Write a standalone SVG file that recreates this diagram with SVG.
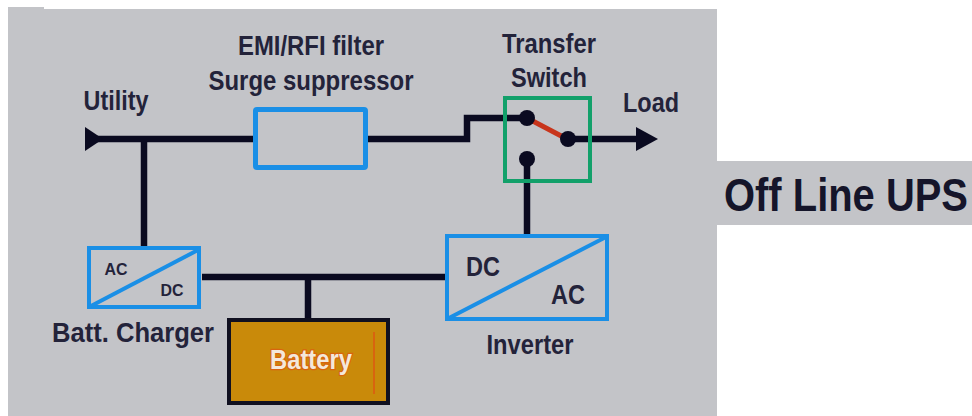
<svg xmlns="http://www.w3.org/2000/svg" width="972" height="416" viewBox="0 0 972 416">
<style>
text{font-family:"Liberation Sans",Arial,sans-serif;font-weight:700;fill:#23233a;text-anchor:middle}
.l{font-size:27px}
.w{fill:none;stroke:#0a0a20;stroke-width:6.5}
.b{fill:none;stroke:#1a8fe6;stroke-width:4}
.d{fill:#0a0a20}
</style>
<rect width="972" height="416" fill="#fff"/>
<path d="M8 7H44V9H717V416H8Z" fill="#c3c4c8"/>
<rect x="717" y="161" width="255" height="64" fill="#c3c4c8"/>
<g id="connectors">
<path class="w" d="M95 139H255M144 139V247M367 139H467V118H526M568 139H640M202 277H447M308 277V320M527 158V236"/>
<path class="d" d="M85 127L103 139L85 151Z"/>
<path class="d" d="M636 127L658 139L636 151Z"/>
</g>
<g id="switch">
<rect x="505" y="98" width="85" height="83" fill="none" stroke="#12a06a" stroke-width="4"/>
<path d="M527 118L567 139" stroke="#c8351c" stroke-width="5"/>
<circle class="d" cx="527" cy="118" r="8"/>
<circle class="d" cx="568" cy="139" r="8"/>
<circle class="d" cx="527" cy="159" r="8"/>
<text class="l" x="549" y="53" textLength="94" lengthAdjust="spacingAndGlyphs">Transfer</text>
<text class="l" x="549" y="87" textLength="76" lengthAdjust="spacingAndGlyphs">Switch</text>
</g>
<g id="utility"><text class="l" x="116" y="110" textLength="65" lengthAdjust="spacingAndGlyphs">Utility</text></g>
<g id="load"><text class="l" x="651" y="112" textLength="56" lengthAdjust="spacingAndGlyphs">Load</text></g>
<g id="filter">
<rect class="b" x="255.5" y="109.5" width="110" height="58" rx="1.5" style="stroke-width:5"/>
<text class="l" x="311" y="55" textLength="146" lengthAdjust="spacingAndGlyphs">EMI/RFI filter</text>
<text class="l" x="311" y="90" textLength="205" lengthAdjust="spacingAndGlyphs">Surge suppressor</text>
</g>
<g id="charger">
<rect class="b" x="89" y="248" width="110" height="59"/>
<path class="b" d="M91 306L198 250"/>
<text x="116" y="275" font-size="17" textLength="23" lengthAdjust="spacingAndGlyphs">AC</text>
<text x="172" y="296" font-size="17" textLength="23" lengthAdjust="spacingAndGlyphs">DC</text>
<text class="l" x="133" y="342" textLength="162" lengthAdjust="spacingAndGlyphs">Batt. Charger</text>
</g>
<g id="battery">
<rect x="229" y="320" width="159" height="83" fill="#c98a0a" stroke="#101020" stroke-width="4"/>
<path d="M374 332V394" stroke="#d8640f" stroke-width="2"/>
<text class="l" x="311" y="369" style="fill:#f3e8da;stroke:#d8640f;stroke-width:2.5;paint-order:stroke" textLength="82" lengthAdjust="spacingAndGlyphs">Battery</text>
</g>
<g id="inverter">
<rect class="b" x="447" y="236" width="160" height="83"/>
<path class="b" d="M449 318L606 237"/>
<text x="483" y="276" font-size="27" textLength="34" lengthAdjust="spacingAndGlyphs">DC</text>
<text x="568" y="304" font-size="27" textLength="34" lengthAdjust="spacingAndGlyphs">AC</text>
<text class="l" x="530" y="354" textLength="87" lengthAdjust="spacingAndGlyphs">Inverter</text>
</g>
<g id="title"><text transform="translate(846 211) scale(.868 1)" font-size="46" style="fill:#15152a">Off Line UPS</text></g>
</svg>
